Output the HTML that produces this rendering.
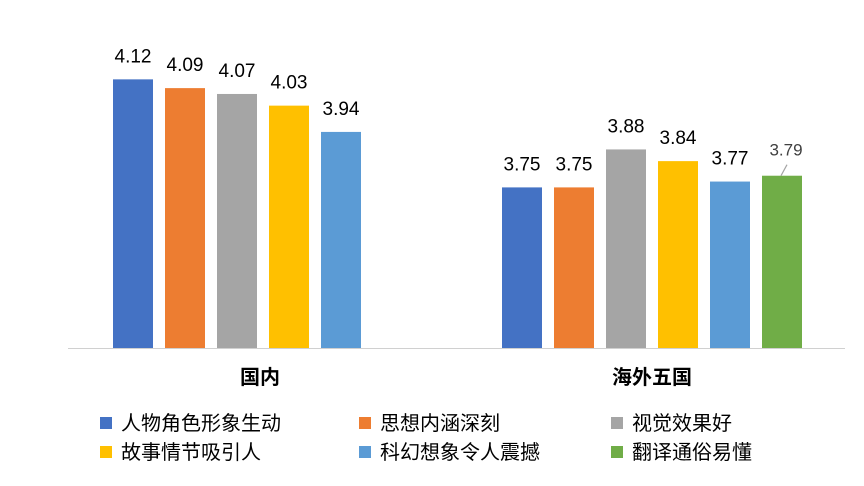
<!DOCTYPE html>
<html><head><meta charset="utf-8"><style>
body{margin:0;background:#fff;width:864px;height:481px;overflow:hidden;font-family:"Liberation Sans","Noto Sans CJK SC",sans-serif}
</style></head><body>
<svg width="864" height="481" id="c" style="font-family:'Liberation Sans','Noto Sans CJK SC',sans-serif"></svg>
<script>
const groups=["国内","海外五国"];
const series=["人物角色形象生动","思想内涵深刻","视觉效果好","故事情节吸引人","科幻想象令人震撼","翻译通俗易懂"];
const colors=["#4472C4","#ED7D31","#A5A5A5","#FFC000","#5B9BD5","#70AD47"];
const domestic=[4.12,4.09,4.07,4.03,3.94];
const foreign=[3.75,3.75,3.88,3.84,3.77,3.79];
const groupStart=[113,502];
const groupLabelX=[260,652];
const ns="http://www.w3.org/2000/svg",svg=document.getElementById('c');
function y(v){return 348-(v-3.2)*292;}
function mk(t,a,p){const e=document.createElementNS(ns,t);for(const k in a)e.setAttribute(k,a[k]);(p||svg).appendChild(e);return e;}
[domestic,foreign].forEach((vals,g)=>{
  vals.forEach((v,i)=>{
    const x=groupStart[g]+i*52;
    const r=mk('rect',{x:x,y:y(v),width:40,height:348-y(v),fill:colors[i]});
    
    
    const last=(g===1&&i===5);
    const t=mk('text',{x:x+20+(last?4:0),y:last?y(v)-20:y(v)-17,'text-anchor':'middle','font-size':last?'17':'19',fill:last?'#404040':'#000'});
    t.textContent=v.toFixed(2);
    
    
    if(last){const l=mk('line',{x1:x+19,y1:y(v),x2:x+25,y2:y(v)-11,stroke:'#a5a5a5','stroke-width':1.2});
      }
  });
  const gt=mk('text',{x:groupLabelX[g],y:384,'text-anchor':'middle','font-size':'20','font-weight':'bold',fill:'#000'});
  gt.textContent=groups[g];
  
  
});
const ax=mk('line',{x1:68,y1:348.5,x2:845,y2:348.5,stroke:'#d0d0d0','stroke-width':1});

const lx=[100,359,611],ly=[423,452];
series.forEach((s,i)=>{
  const cx=lx[i%3],cy=ly[Math.floor(i/3)];
  const g=mk('g',{});
  
  
  mk('rect',{x:cx,y:cy-6,width:12,height:12,fill:colors[i]},g);
  const t=mk('text',{x:cx+21,y:cy+7,'font-size':'20',fill:'#000'},g);
  t.textContent=s;
});
</script>
</body></html>
